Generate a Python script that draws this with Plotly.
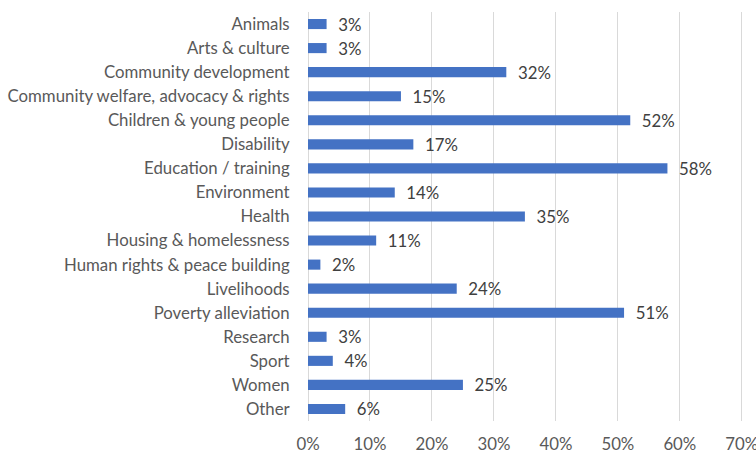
import plotly.graph_objects as go

categories = ["Animals", "Arts & culture", "Community development",
              "Community welfare, advocacy & rights", "Children & young people",
              "Disability", "Education / training", "Environment", "Health",
              "Housing & homelessness", "Human rights & peace building",
              "Livelihoods", "Poverty alleviation", "Research", "Sport", "Women", "Other"]
values = [3, 3, 32, 15, 52, 17, 58, 14, 35, 11, 2, 24, 51, 3, 4, 25, 6]
tick_vals = [0, 10, 20, 30, 40, 50, 60, 70]
tick_text = [f"{v}%" for v in tick_vals]

FONT = "Lato, Carlito, Calibri, sans-serif"
FS = 16.8

fig = go.Figure(go.Bar(
    x=values, y=categories, orientation="h",
    marker=dict(color="#4472C4", line=dict(width=0)),
    text=[f"  {v}%" for v in values], textposition="outside",
    constraintext="none",
    textfont=dict(family=FONT, size=FS, color="#404040"),
    cliponaxis=False,
))

fig.update_layout(
    width=756, height=450,
    margin=dict(l=308, r=8, t=12, b=29, autoexpand=False),
    paper_bgcolor="white", plot_bgcolor="white",
    bargap=0.58, showlegend=False,
    font=dict(family=FONT, size=FS, color="#595959"),
    xaxis=dict(range=[0, 71], tickvals=tick_vals, ticktext=tick_text,
               showgrid=True, gridcolor="#D9D9D9", gridwidth=1,
               zeroline=True, zerolinecolor="#D9D9D9", zerolinewidth=1,
               ticks="outside", ticklen=8, tickcolor="rgba(0,0,0,0)",
               tickfont=dict(family=FONT, size=FS, color="#595959"),
               ticklabeloverflow="allow",
               showline=False, fixedrange=True, automargin=False),
    yaxis=dict(autorange="reversed", showgrid=False, zeroline=False,
               ticks="outside", ticklen=14, tickcolor="rgba(0,0,0,0)",
               tickfont=dict(family=FONT, size=FS, color="#595959"),
               showline=False, automargin=False),
)

fig.write_html("out.html")
